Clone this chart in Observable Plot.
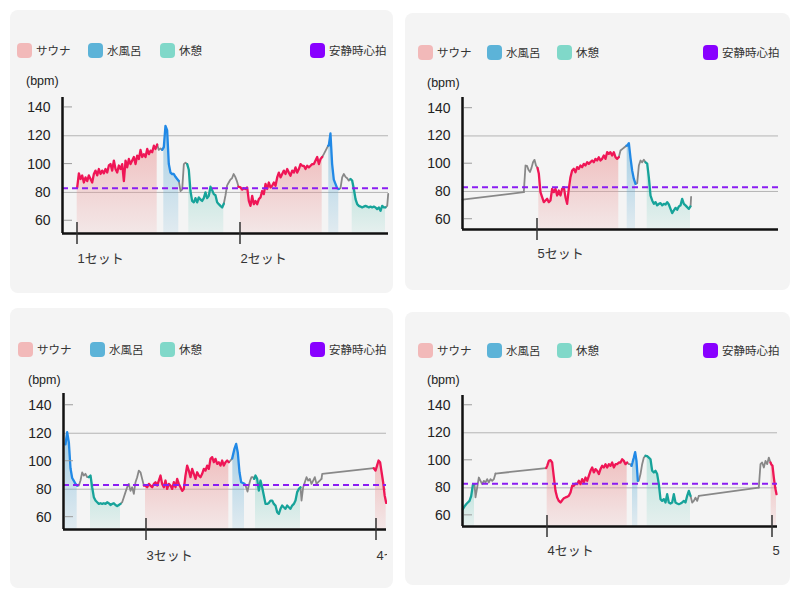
<!DOCTYPE html>
<html><head><meta charset="utf-8">
<script src="https://cdn.jsdelivr.net/npm/d3@7"></script>
<script src="https://cdn.jsdelivr.net/npm/@observablehq/plot@0.6"></script>
<style>
body{margin:0;background:#fff;font-family:"Liberation Sans","Noto Sans CJK JP",sans-serif;color:#333;}
#page{position:relative;width:800px;height:600px;overflow:hidden;}
.card{position:absolute;background:#f4f4f4;border-radius:8px;}
.lg{position:absolute;display:flex;align-items:center;font-size:11.5px;color:#333;white-space:nowrap;height:16px;}
.sw{width:15px;height:15px;border-radius:4px;margin-right:4px;flex:none;}
.unit{position:absolute;font-size:12.5px;color:#222;line-height:16px;}
.plotbox{position:absolute;overflow:hidden;}
</style></head><body><div id="page"></div>
<script>
// ---- categories / legend ----
const legendLabels = ["サウナ", "水風呂", "休憩", "安静時心拍"];
const legendColors = ["#f2b9b9", "#5cb3d8", "#80d8c9", "#8800ff"];
const yTicks = [60, 80, 100, 120, 140];
const gridValues = [80, 120];
const restingHR = [83, 83, 83, 83];
const unitLabel = "(bpm)";

// ---- set markers (time index, label) ----
const setTimes1 = [15, 178];
const setLabels1 = ["1セット", "2セット"];
const setTimes2 = [75];
const setLabels2 = ["5セット"];
const setTimes3 = [83, 313];
const setLabels3 = ["3セット", "4セット"];
const setTimes4 = [85, 310];
const setLabels4 = ["4セット", "5セット"];

// ---- heart-rate segments: [type, start time, end time, bpm samples] ----
// s = サウナ, w = 水風呂, r = 休憩, g = other
const panel1 = [
  ["s", 14.7, 94.7, [83.5,93.5,89.5,92,87,90.6,88,92,89.5,87,93,95.4,92,96.5,93,95.4,93.5,96.5,94,99,100,95.4,102.5,96.5,94,99,96.5,100,88,102.5,97.7,103.6,100,102.5,105,100,106,103.6,110,105,107,105,110.7,107,109.5,108.4,113,110.7,113.8]],
  ["g", 96.3, 99.7, [110,111,110]],
  ["w", 101.3, 116.3, [112,127,124,100,94,93,93,91,89.5,88]],
  ["g", 118, 124.7, [81,82,100,101,100]],
  ["r", 126.3, 161.3, [96,81,74,73,76,73,76.5,75,74,76,80,76,77.6,84,81.6,78.8,78,73,71.7,70.5,69.4,72]],
  ["g", 163, 176, [78,85,87,89,90,93,91,88,84]],
  ["s", 178, 259.7, [83.5,82,83,82.4,83.5,74,70.5,77.6,71.7,74,71.7,75.3,76.5,81,78.8,86,82.4,87,83.5,84.7,87,84.7,90.6,94,90.6,93,95.4,93,96.5,94,91.8,95.4,94,97.7,94,96.5,100,98.8,98.8,96.5,98.8,97.7,98.8,100,100,102.5,105,100,103.6,105]],
  ["g", 261.3, 265.7, [107,110,113]],
  ["w", 266.3, 276.3, [113,121.6,100,89,86,83,82.4]],
  ["g", 278, 288, [83,90.6,93,91,90,88.3,89.5]],
  ["r", 289.7, 323, [88.3,82.4,75.3,71.7,70.5,70,69.4,70,70.5,70,69.4,70,69.4,70,69.4,68.2,69.4,67,70.5,69.4,69.4]],
  ["g", 324.7, 325.7, [70.5,79]]
];
const panel2 = [
  ["g", 0, 61.3, [74.2,79.5]],
  ["g", 63, 75, [98.7,98.5,95.6,94,97,101,102.8,98.7,97]],
  ["s", 76.3, 156.3, [93,79.5,75.9,72.3,73.5,74.7,72.3,73.5,81.9,79.5,81.9,77.1,80.7,77.1,81.9,83.1,75.9,71.1,81.9,90.3,95.1,96.3,93.9,97.5,96.3,98.7,97.5,99.9,98.7,101.1,99.9,101.1,102.3,101.1,103.5,102.3,104.7,102.3,103.5,105.9,103.5,108.3,107.1,108.3,105.9,108.3,104.7,103.5,104.7]],
  ["g", 158, 164, [109.5,110.7,111.9,113]],
  ["w", 164.7, 173, [113,114.8,104,95,89,85.5]],
  ["g", 174.7, 183, [86,98.7,102.3,101,102.8,101]],
  ["r", 184.7, 228, [100,90,77,73.5,71.1,72.3,70,71.1,71.6,70,71.1,70.6,72.3,70.6,67.5,64.4,66.3,68.2,66.8,69.2,70,74.7,71.1,70,68.7,67.5,69.2]],
  ["g", 228.3, 228.6, [72,76]]
];
const panel3 = [
  ["w", 2, 13.67, [112,120.7,113.6,95,88,86,83.8,82.6]],
  ["g", 15.33, 25.33, [82.6,86.2,92,89.8,91,88.6,88.6]],
  ["r", 27, 57, [89.8,81.4,74.3,71.9,70.7,69.5,70,69.5,70,69.5,70.7,70,68.7,69.5,70,68.7,67.9,68.7,69.5]],
  ["g", 58.67, 80.33, [70.7,74.3,77.9,81.4,83.8,78.8,81.4,76.7,85,88.6,93.3,92.1,87.4,82.6]],
  ["s", 82, 165.33, [82.6,81.4,83.8,82.6,81.4,83.8,85,82.6,86.2,89.8,83.8,81.4,86.2,80.2,83.8,82.6,80.2,85,81.4,87.4,83.8,81.4,78.8,80.2,89.8,96.9,93.3,88.6,94.5,91,87.4,92.1,89.8,88.6,91,94.5,93.3,96.9,94.5,101.7,102.9,99.3,101.7,98.1,99.3,96.9,100.5,96.9,99.3,100.5,99.3]],
  ["g", 167, 168.7, [100.5,102]],
  ["w", 169.33, 181, [104,109,112.4,106,92.1,85,84.4,83.8]],
  ["g", 182.67, 190.67, [81.4,78.3,82.6,86.2,88.6,88.6,87.4]],
  ["r", 192, 237, [89.8,87.4,79,86.2,81.4,75.5,69.5,69.5,70.2,71.9,71.9,69.5,68.3,63.6,62.4,66,68.3,67.1,66,68.3,67.1,66,68.3,69.5,71.9,77.9,80.2,81.4]],
  ["g", 238, 258, [71.9,81.4,85,88.6,86.2,87.4,83.8,86.2,88.6,83.8,85,86.2,87.4]],
  ["g", 258.7, 310.3, [91,95]],
  ["s", 312, 322.7, [93.3,96.9,100.5,99.3,92.1,85,75.5,70.2]]
];
const panel4 = [
  ["r", 0.33, 12, [64.5,66.5,68.1,69.3,70.5,74,82,82.7]],
  ["g", 13, 33, [73,80.2,87.5,85.1,82.7,85.1,83.9,86.3,83.9,86.3,85.1,86.3,90.4]],
  ["g", 83.7, 83.7, [94.3]],
  ["s", 84.67, 164.67, [96,99.6,100.1,98.4,88,77.8,73,70.5,69.3,71,72.4,73,73.4,74.2,76.6,81.5,81.5,83.1,82.7,85.1,82.7,86.3,83.9,87.5,85.1,88.7,92.4,94.8,91.2,93.6,92.4,90,93.6,96,94.8,97.2,94.8,97.2,96,98.4,94.8,97.2,97.2,98.4,98.4,100.8,99.6,97.2,98.4]],
  ["g", 166.3, 169, [97.2,97.2,96]],
  ["w", 170, 175.33, [98.4,102,106,99.6,85.1]],
  ["g", 176.33, 183, [85.1,90,97.2,102,103.3]],
  ["r", 184.67, 228, [103,102,100.8,92.4,91.2,92.4,90,82.7,71.8,70.5,71.8,69.3,75.4,69.3,68.6,69.3,75.4,69.3,68.6,68.1,68.6,69.3,70.5,69.3,74.2,77.8,74.2]],
  ["g", 229.67, 236.33, [69.3,70.5,72.9,70.5,74.2]],
  ["g", 296.3, 296.3, [80.2]],
  ["g", 298, 308, [97.2,98.4,94.8,99.6,97.2,102,98.4]],
  ["s", 308.67, 314, [97.2,96,87.5,80.2,75.4]]
];

// ---- styling ----
const lineColor = {s: "#ef1656", w: "#2189e6", r: "#17a39a", g: "#888888"};
const areaColor = {s: [236,150,150,0.55], w: [90,170,212,0.5], r: [120,206,192,0.45]};
const SVGNS = "http://www.w3.org/2000/svg";

function el(tag, attrs) {
  const e = document.createElementNS(SVGNS, tag);
  for (const k in attrs) e.setAttribute(k, attrs[k]);
  return e;
}

function build(segs) {
  const line = [], area = [];
  let prev = null;
  segs.forEach(([type, t0, t1, vals], i) => {
    const n = vals.length;
    const pts = vals.map((v, j) => ({t: n > 1 ? t0 + (t1 - t0) * j / (n - 1) : t0, v, seg: i, type}));
    if (prev) line.push({t: prev.t, v: prev.v, seg: i, type});
    pts.forEach(p => line.push(p));
    if (type !== "g") pts.forEach(p => area.push(p));
    prev = pts[n - 1];
  });
  return {line, area};
}

function defsMark(pid) {
  return () => {
    const defs = el("defs", {});
    for (const k of ["s", "w", "r"]) {
      const [r, g, b, a] = areaColor[k];
      const lg = el("linearGradient", {id: `grad-${k}-${pid}`, x1: 0, y1: 0, x2: 0, y2: 1});
      lg.appendChild(el("stop", {offset: "0%", "stop-color": `rgb(${r},${g},${b})`, "stop-opacity": a}));
      lg.appendChild(el("stop", {offset: "100%", "stop-color": `rgb(${r},${g},${b})`, "stop-opacity": a * 0.25}));
      defs.appendChild(lg);
    }
    return defs;
  };
}

function decorMark(setTimes) {
  return (index, scales, values, dims) => {
    const g = el("g", {});
    const x0 = dims.marginLeft;
    for (const v of [60, 100, 140]) {
      const y = scales.y(v);
      g.appendChild(el("line", {x1: x0 + 2, x2: x0 + 10, y1: y, y2: y, stroke: "#9c9c9c", "stroke-width": 1}));
    }
    const yb = dims.height - dims.marginBottom;
    for (const t of setTimes) {
      const x = scales.x(t);
      g.appendChild(el("line", {x1: x, x2: x, y1: yb - 11, y2: yb + 11, stroke: "#333", "stroke-width": 1.5}));
    }
    return g;
  };
}

const panels = [
  {segs: panel1, sets: setTimes1, labels: setLabels1, hr: restingHR[0],
   card: [10, 10, 383, 283], legendY: 50, legendX: [17, 88, 160, 310], unit: [26, 81],
   box: [10, 88, 383, 185], m: [9, 5, 40, 52], xMax: 326, yDom: [51, 147], dy: 29},
  {segs: panel2, sets: setTimes2, labels: setLabels2, hr: restingHR[1],
   card: [405, 13, 385, 277], legendY: 52, legendX: [418, 487, 557, 703], unit: [427, 83],
   box: [405, 88, 385, 180], m: [9, 12, 39, 57], xMax: 316, yDom: [52.6, 147.7], dy: 28},
  {segs: panel3, sets: setTimes3, labels: setLabels3, hr: restingHR[2],
   card: [10, 308, 383, 280], legendY: 349, legendX: [18, 90, 160, 310], unit: [28, 380],
   box: [10, 385, 377, 183], m: [8, 1, 39, 53], xMax: 323, yDom: [51.2, 148.4], dy: 30},
  {segs: panel4, sets: setTimes4, labels: setLabels4, hr: restingHR[3],
   card: [405, 312, 385, 273], legendY: 350, legendX: [418, 487, 557, 703], unit: [427, 380],
   box: [405, 387, 375, 178], m: [8, 3, 39, 57], xMax: 315, yDom: [51.9, 147.1], dy: 28}
];

const page = document.getElementById("page");

panels.forEach((p, pi) => {
  const card = document.createElement("div");
  card.className = "card";
  Object.assign(card.style, {left: p.card[0] + "px", top: p.card[1] + "px", width: p.card[2] + "px", height: p.card[3] + "px"});
  page.appendChild(card);

  legendLabels.forEach((lab, i) => {
    const d = document.createElement("div");
    d.className = "lg";
    Object.assign(d.style, {left: p.legendX[i] + "px", top: (p.legendY - 8) + "px"});
    d.innerHTML = `<span class="sw" style="background:${legendColors[i]}"></span><span>${lab}</span>`;
    page.appendChild(d);
  });

  const u = document.createElement("div");
  u.className = "unit";
  Object.assign(u.style, {left: p.unit[0] + "px", top: (p.unit[1] - 8) + "px"});
  u.textContent = unitLabel;
  page.appendChild(u);

  const {line, area} = build(p.segs);
  const sets = p.sets.map((t, i) => ({t, label: p.labels[i]}));
  const [W, H] = [p.box[2], p.box[3]];
  const [mt, mr, mb, ml] = p.m;
  const y0 = p.yDom[0];

  const marks = [defsMark(pi), Plot.ruleY(gridValues, {stroke: "#b4b4b4", strokeWidth: 1})];
  for (const k of ["s", "w", "r"]) {
    marks.push(Plot.areaY(area.filter(d => d.type === k), {x: "t", y1: y0, y2: "v", z: "seg", fill: `url(#grad-${k}-${pi})`}));
  }
  for (const k of ["g", "s", "w", "r"]) {
    marks.push(Plot.line(line.filter(d => d.type === k), {x: "t", y: "v", z: "seg", stroke: lineColor[k],
      strokeWidth: k === "g" ? 1.8 : 2.3, strokeLinejoin: "round"}));
  }
  marks.push(Plot.ruleY([p.hr], {stroke: "#8a1df2", strokeWidth: 2, strokeDasharray: "6,4"}));
  marks.push(Plot.ruleX([0], {stroke: "#111", strokeWidth: 2.5}));
  marks.push(Plot.ruleY([y0], {stroke: "#111", strokeWidth: 2.5}));
  marks.push(decorMark(p.sets));
  marks.push(Plot.text(sets, {x: "t", text: "label", frameAnchor: "bottom", dy: p.dy, textAnchor: "start", fill: "#333", fontSize: 13}));

  const chart = Plot.plot({
    width: W, height: H,
    marginTop: mt, marginRight: mr, marginBottom: mb, marginLeft: ml,
    x: {domain: [0, p.xMax], axis: null},
    y: {domain: p.yDom, ticks: yTicks, tickSize: 0, tickPadding: 12, label: null},
    style: {background: "transparent", fontSize: "14px", fontFamily: '"Liberation Sans","Noto Sans CJK JP",sans-serif', color: "#222", overflow: "hidden"},
    marks
  });
  const box = document.createElement("div");
  box.className = "plotbox";
  Object.assign(box.style, {left: p.box[0] + "px", top: p.box[1] + "px", width: W + "px", height: H + "px"});
  box.appendChild(chart);
  page.appendChild(box);
});
</script></body></html>
